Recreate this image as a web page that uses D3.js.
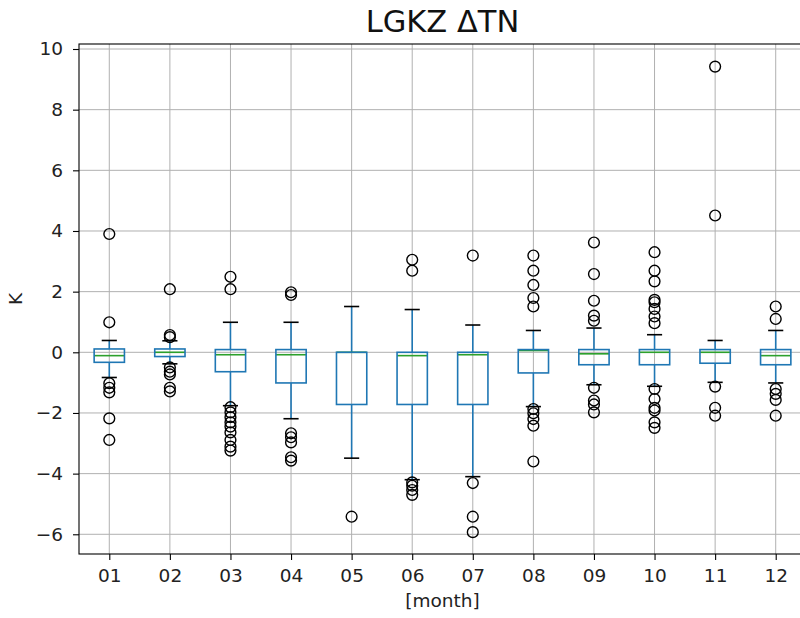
<!DOCTYPE html>
<html>
<head>
<meta charset="utf-8">
<script src="https://cdn.jsdelivr.net/npm/d3@7"></script>
<style>
  html, body { margin: 0; padding: 0; background: #fff; }
  svg { display: block; font-family: "DejaVu Sans", sans-serif; }
</style>
</head>
<body>
<div id="chart"></div>
<script>
// monthly box stats
const months = ['01', '02', '03', '04', '05', '06', '07', '08', '09', '10', '11', '12'];
const q1 = [-0.33, -0.14, -0.64, -1.01, -1.72, -1.72, -1.72, -0.68, -0.41, -0.41, -0.36, -0.41];
const medians = [-0.11, 0.0, -0.08, -0.08, 0.0, -0.11, -0.08, 0.06, -0.05, 0.0, 0.0, -0.11];
const q3 = [0.11, 0.11, 0.09, 0.09, 0.0, 0.0, 0.0, 0.09, 0.09, 0.09, 0.09, 0.09];
const whiskLow = [-0.83, -0.38, -1.76, -2.19, -3.49, -4.2, -4.1, -1.79, -1.07, -1.12, -0.99, -1.01];
const whiskHigh = [0.39, 0.38, 0.99, 0.99, 1.51, 1.41, 0.9, 0.72, 0.8, 0.58, 0.39, 0.72];
const fliers = [
  [3.9, 0.99, -1.02, -1.17, -1.32, -2.18, -2.89],
  [2.08, 0.57, 0.5, -0.5, -0.64, -0.73, -1.17, -1.29],
  [2.49, 2.08, -1.81, -1.98, -2.14, -2.31, -2.45, -2.64, -2.89, -3.11, -3.24],
  [1.98, 1.89, -2.67, -2.8, -2.97, -3.46, -3.57],
  [-5.42],
  [3.05, 2.69, -4.29, -4.4, -4.54, -4.7],
  [3.19, -4.31, -5.42, -5.93],
  [3.19, 2.69, 2.22, 1.79, 1.51, -1.87, -2.01, -2.2, -2.42, -3.6],
  [3.62, 2.58, 1.7, 1.21, 1.04, -1.17, -1.59, -1.72, -1.98],
  [3.3, 2.69, 2.34, 1.73, 1.65, 1.43, 1.18, 0.96, -1.21, -1.54, -1.83, -1.92, -2.31, -2.49],
  [9.42, 4.51, -1.13, -1.83, -2.09],
  [1.51, 1.1, -1.21, -1.37, -1.57, -2.09]
];
const yTicks = [-6, -4, -2, 0, 2, 4, 6, 8, 10];

const width = 800;
const height = 618;
const margin = { top: 44, right: -6, bottom: 64, left: 79 };
const fontSize = '18.5px';

const svg = d3.select('#chart')
  .append('svg')
  .attr('width', width)
  .attr('height', height);

const x = d3.scaleLinear()
  .domain([0.5, months.length + 0.5])
  .range([margin.left, width - margin.right]);

const y = d3.scaleLinear()
  .domain([-6.65, 10.165])
  .range([height - margin.bottom, margin.top]);

const pos = months.map((m, i) => i + 1);

// grid
const grid = svg.append('g').attr('stroke', '#b0b0b0').attr('stroke-width', 1);
grid.selectAll('line.v')
  .data(pos)
  .enter()
  .append('line')
  .attr('x1', d => x(d)).attr('x2', d => x(d))
  .attr('y1', y.range()[0]).attr('y2', y.range()[1]);
grid.selectAll('line.h')
  .data(yTicks)
  .enter()
  .append('line')
  .attr('x1', x.range()[0]).attr('x2', x.range()[1])
  .attr('y1', d => y(d)).attr('y2', d => y(d));

// axes
const xAxis = svg.append('g')
  .attr('transform', `translate(0,${height - margin.bottom})`)
  .call(d3.axisBottom(x).tickValues(pos).tickFormat((d, i) => months[i]).tickSize(6).tickPadding(9));

const yAxis = svg.append('g')
  .attr('transform', `translate(${margin.left},0)`)
  .call(d3.axisLeft(y).tickValues(yTicks).tickFormat(d3.format('d')).tickSize(6).tickPadding(10));

[xAxis, yAxis].forEach(a => {
  a.select('.domain').remove();
  a.selectAll('.tick line').attr('stroke', '#000').attr('stroke-width', 1.1);
  a.selectAll('.tick text').attr('fill', '#222').style('font-size', fontSize).style('font-family', '"DejaVu Sans", sans-serif');
});

// boxes
const bw = 0.25;
const cw = 0.125;
const boxes = svg.append('g');

boxes.selectAll('line.whisk-lo')
  .data(pos)
  .enter()
  .append('line')
  .attr('x1', d => x(d)).attr('x2', d => x(d))
  .attr('y1', (d, i) => y(q1[i])).attr('y2', (d, i) => y(whiskLow[i]))
  .attr('stroke', '#1f77b4').attr('stroke-width', 1.6);

boxes.selectAll('line.whisk-hi')
  .data(pos)
  .enter()
  .append('line')
  .attr('x1', d => x(d)).attr('x2', d => x(d))
  .attr('y1', (d, i) => y(q3[i])).attr('y2', (d, i) => y(whiskHigh[i]))
  .attr('stroke', '#1f77b4').attr('stroke-width', 1.6);

boxes.selectAll('line.med')
  .data(pos)
  .enter()
  .append('line')
  .attr('x1', d => x(d - bw)).attr('x2', d => x(d + bw))
  .attr('y1', (d, i) => y(medians[i])).attr('y2', (d, i) => y(medians[i]))
  .attr('stroke', '#2ca02c').attr('stroke-width', 1.6);

boxes.selectAll('rect')
  .data(pos)
  .enter()
  .append('rect')
  .attr('x', d => x(d - bw))
  .attr('width', d => x(d + bw) - x(d - bw))
  .attr('y', (d, i) => y(q3[i]))
  .attr('height', (d, i) => y(q1[i]) - y(q3[i]))
  .attr('fill', 'none')
  .attr('stroke', '#1f77b4').attr('stroke-width', 1.6);

[whiskLow, whiskHigh].forEach(w => {
  boxes.append('g').selectAll('line')
    .data(pos)
    .enter()
    .append('line')
    .attr('x1', d => x(d - cw)).attr('x2', d => x(d + cw))
    .attr('y1', (d, i) => y(w[i])).attr('y2', (d, i) => y(w[i]))
    .attr('stroke', '#000').attr('stroke-width', 1.6);
});

// outliers
const pts = fliers.flatMap((f, i) => f.map(v => ({ p: pos[i], v })));
svg.append('g').selectAll('circle')
  .data(pts)
  .enter()
  .append('circle')
  .attr('cx', d => x(d.p))
  .attr('cy', d => y(d.v))
  .attr('r', 5.4)
  .attr('fill', 'none')
  .attr('stroke', '#000')
  .attr('stroke-width', 1.4);

// spines
svg.append('rect')
  .attr('x', x.range()[0])
  .attr('y', y.range()[1])
  .attr('width', x.range()[1] - x.range()[0])
  .attr('height', y.range()[0] - y.range()[1])
  .attr('fill', 'none')
  .attr('stroke', '#000')
  .attr('stroke-width', 1.1);

// labels
svg.append('text')
  .attr('x', (x.range()[0] + x.range()[1]) / 2)
  .attr('y', 32)
  .attr('text-anchor', 'middle')
  .style('font-size', '30.5px')
  .attr('fill', '#111')
  .text('LGKZ ΔTN');

svg.append('text')
  .attr('x', (x.range()[0] + x.range()[1]) / 2)
  .attr('y', 607)
  .attr('text-anchor', 'middle')
  .style('font-size', fontSize)
  .attr('fill', '#222')
  .text('[month]');

svg.append('text')
  .attr('transform', `translate(22,${(y.range()[0] + y.range()[1]) / 2}) rotate(-90)`)
  .attr('text-anchor', 'middle')
  .style('font-size', fontSize)
  .attr('fill', '#222')
  .text('K');
</script>
</body>
</html>
